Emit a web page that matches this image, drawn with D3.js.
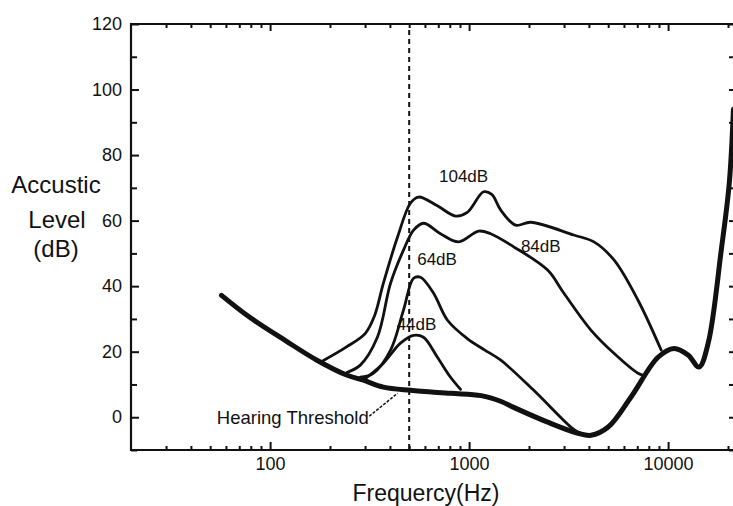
<!DOCTYPE html>
<html>
<head>
<meta charset="utf-8">
<script src="https://cdn.jsdelivr.net/npm/d3@7"></script>
<style>
  body { margin: 0; background: #fff; }
  svg { display: block; font-family: "Liberation Sans", Arial, sans-serif; }
  .axis path { display: none; }
  .axis line { stroke: #111; stroke-width: 2; }
  .axis text { fill: #111; font-size: 18px; }
  .curve { fill: none; stroke: #111; stroke-linejoin: round; stroke-linecap: round; }
</style>
</head>
<body>
<div id="chart"></div>
<script>
// [frequency Hz, level dB]
var threshold = [[57,37.2],[79,30.5],[120,23.3],[172,17.4],[244,12.8],[294,11.3],[371,9.2],[507,8.2],
  [807,7.3],[1150,6.6],[1450,4.8],[1675,3],[2480,-1.5],[3520,-4.9],[4100,-5.5],[5000,-3],
  [6500,6.1],[8900,18.3],[10700,21],[12600,19],[14300,15.3],[15900,22.6],[18500,51],[20300,71.5],[21300,94]];
var level104 = [[179,16.8],[240,21.3],[301,25.6],[335,31],[371,40.9],[437,55],[507,65.3],[557,67.2],
  [693,64.5],[855,61.4],[979,62.5],[1183,68.8],[1300,68],[1443,63.2],[1714,58.6],[2041,59.5],
  [3357,55.6],[4237,53.5],[5345,48],[7060,35.7],[9230,20.5]];
var level84 = [[244,13.7],[284,15.9],[346,24.4],[403,40.9],[468,51],[526,57.1],[590,59.2],[718,56],
  [886,53.5],[1117,56.8],[1282,56],[1675,52],[2480,44.9],[2990,37.9],[4094,26.6],[5345,19.5],[7060,13.4],[7500,12.8]];
var level64 = [[284,12.2],[330,13.4],[403,20.5],[468,32.7],[526,42.4],[570,42.7],[662,37.9],[779,29.6],
  [979,24],[1200,20.5],[1443,17.4],[2113,8.2],[3243,-3],[3600,-4.9]];
var level44 = [[294,11.3],[371,16.5],[452,22.6],[526,25],[590,24.4],[693,18.3],[807,12.2],[906,8.5]];

var curveLabels = [
  {text: "104dB", f: 938, db: 71.8},
  {text: "84dB", f: 2291, db: 50.4},
  {text: "64dB", f: 690, db: 46.4},
  {text: "44dB", f: 544, db: 26.6}
];
var yTicks = [0, 20, 40, 60, 80, 100, 120];
var yMinor = [-10, 10, 30, 50, 70, 90, 110];
var xTicks = [100, 1000, 10000];
var xMinor = [30,40,50,60,70,80,90,200,300,400,500,600,700,800,900,
  2000,3000,4000,5000,6000,7000,8000,9000,20000];
var markerFreq = 500;

var W = 733, H = 506;
var m = {left: 131, right: 735, top: 24, bottom: 450};

var svg = d3.select("#chart").append("svg")
  .attr("width", W)
  .attr("height", H);

var x = d3.scaleLog().domain([20, 20000]).range([m.left, 728]);
var y = d3.scaleLinear().domain([-10, 120]).range([m.bottom, m.top]);

// frame
svg.append("path")
  .attr("d", "M" + m.right + "," + m.top + "H" + m.left + "V" + m.bottom + "H" + m.right)
  .attr("fill", "none")
  .attr("stroke", "#111")
  .attr("stroke-width", 2.2);

// left axis
svg.append("g").attr("class", "axis")
  .attr("transform", "translate(" + m.left + ",0)")
  .call(d3.axisLeft(y).tickValues(yTicks).tickSize(-8).tickPadding(9));
svg.append("g").attr("class", "axis")
  .attr("transform", "translate(" + m.left + ",0)")
  .call(d3.axisLeft(y).tickValues(yMinor).tickSize(-6).tickFormat(""));
// right ticks
svg.append("g").attr("class", "axis")
  .attr("transform", "translate(" + m.right + ",0)")
  .call(d3.axisRight(y).tickValues(yTicks.concat(yMinor)).tickSize(-6).tickFormat(""));

// bottom axis
svg.append("g").attr("class", "axis")
  .attr("transform", "translate(0," + m.bottom + ")")
  .call(d3.axisBottom(x).tickValues(xTicks).tickSize(-8).tickPadding(7).tickFormat(d3.format("d")));
svg.append("g").attr("class", "axis")
  .attr("transform", "translate(0," + m.bottom + ")")
  .call(d3.axisBottom(x).tickValues(xMinor).tickSize(-4).tickFormat(""));
// top ticks
svg.append("g").attr("class", "axis")
  .attr("transform", "translate(0," + m.top + ")")
  .call(d3.axisTop(x).tickValues(xTicks).tickSize(-7).tickFormat(""));
svg.append("g").attr("class", "axis")
  .attr("transform", "translate(0," + m.top + ")")
  .call(d3.axisTop(x).tickValues(xMinor).tickSize(-4).tickFormat(""));

// dashed 500 Hz line
svg.append("line")
  .attr("x1", x(markerFreq)).attr("x2", x(markerFreq))
  .attr("y1", m.top + 6).attr("y2", m.bottom)
  .attr("stroke", "#111")
  .attr("stroke-width", 2)
  .attr("stroke-dasharray", "5,4");

var line = d3.line()
  .x(function(d) { return x(d[0]); })
  .y(function(d) { return y(d[1]); })
  .curve(d3.curveCatmullRom.alpha(0.5));

[level104, level84, level64, level44].forEach(function(s) {
  svg.append("path").attr("class", "curve")
    .attr("d", line(s))
    .attr("stroke-width", 2.8);
});

svg.append("path").attr("class", "curve")
  .attr("d", line(threshold))
  .attr("stroke-width", 5);

// curve labels
svg.selectAll(".clabel")
  .data(curveLabels)
  .enter().append("text")
  .attr("class", "clabel")
  .attr("x", function(d) { return x(d.f); })
  .attr("y", function(d) { return y(d.db); })
  .attr("text-anchor", "middle")
  .attr("font-size", 17)
  .attr("fill", "#111")
  .text(function(d) { return d.text; });

// hearing threshold label + leader
svg.append("text")
  .attr("x", x(54)).attr("y", y(-2.1))
  .attr("font-size", 18.5)
  .attr("fill", "#111")
  .text("Hearing Threshold");
svg.append("line")
  .attr("x1", x(315)).attr("y1", y(0.3))
  .attr("x2", x(437)).attr("y2", y(7.3))
  .attr("stroke", "#111")
  .attr("stroke-width", 1.5)
  .attr("stroke-dasharray", "3,1.5");

// axis titles
svg.append("text")
  .attr("x", 56).attr("y", 193)
  .attr("text-anchor", "middle")
  .attr("font-size", 24)
  .attr("fill", "#111")
  .text("Accustic");
svg.append("text")
  .attr("x", 57).attr("y", 228)
  .attr("text-anchor", "middle")
  .attr("font-size", 24)
  .attr("fill", "#111")
  .text("Level");
svg.append("text")
  .attr("x", 56).attr("y", 257)
  .attr("text-anchor", "middle")
  .attr("font-size", 24)
  .attr("fill", "#111")
  .text("(dB)");
svg.append("text")
  .attr("x", 426).attr("y", 501)
  .attr("text-anchor", "middle")
  .attr("font-size", 23)
  .attr("fill", "#111")
  .text("Frequercy(Hz)");
</script>
</body>
</html>
